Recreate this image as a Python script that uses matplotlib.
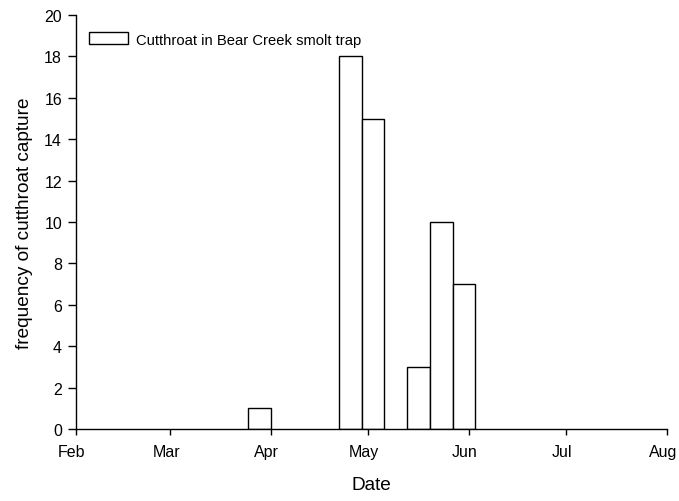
import matplotlib
matplotlib.use("Agg")
import matplotlib.pyplot as plt
import matplotlib.dates as mdates
import matplotlib.transforms as mtransforms
import datetime as dt

plt.rcParams['font.family'] = ['Liberation Sans', 'DejaVu Sans']

bin_starts = ["2008-03-25", "2008-04-22", "2008-04-29", "2008-05-13", "2008-05-20", "2008-05-27"]
counts = [1, 18, 15, 3, 10, 7]
bin_width_days = 7
month_ticks = ["2008-02-01", "2008-03-01", "2008-04-01", "2008-05-01", "2008-06-01", "2008-07-01", "2008-08-01"]

fig = plt.figure(figsize=(6.79, 5.02), dpi=100)
ax = fig.add_axes([0.1119, 0.1434, 0.8704, 0.8246])

starts = [dt.datetime.strptime(s, "%Y-%m-%d") for s in bin_starts]
ax.bar(starts, counts, width=bin_width_days, align='edge', facecolor='white',
       edgecolor='black', linewidth=1.0, label='Cutthroat in Bear Creek smolt trap')

ticks = [dt.datetime.strptime(s, "%Y-%m-%d") for s in month_ticks]
ax.set_xlim(ticks[0], ticks[-1])
ax.set_xticks(ticks)
ax.xaxis.set_major_formatter(mdates.DateFormatter('%b'))
ax.set_ylim(0, 20)
ax.set_yticks(range(0, 21, 2))

for s in ['top', 'right']:
    ax.spines[s].set_visible(False)
for s in ['left', 'bottom']:
    ax.spines[s].set_linewidth(1.0)
ax.tick_params(axis='both', labelsize=11.5, width=1.0, direction='out')
ax.tick_params(axis='x', length=4, pad=7)
ax.tick_params(axis='y', length=6, pad=4)

shift = mtransforms.ScaledTranslation(-0.04, 0, fig.dpi_scale_trans)
for lbl in ax.get_xticklabels():
    lbl.set_transform(lbl.get_transform() + shift)

ax.set_xlabel('Date', fontsize=13.7, labelpad=12)
ax.set_ylabel('frequency of cutthroat capture', fontsize=13.7, labelpad=8)

ax.legend(loc='upper left', frameon=False, fontsize=10.6, handlelength=2.6, handleheight=0.88,
          handletextpad=0.6, bbox_to_anchor=(0.0, 0.99), borderaxespad=0.5)

fig.savefig('out.png', dpi=100)
